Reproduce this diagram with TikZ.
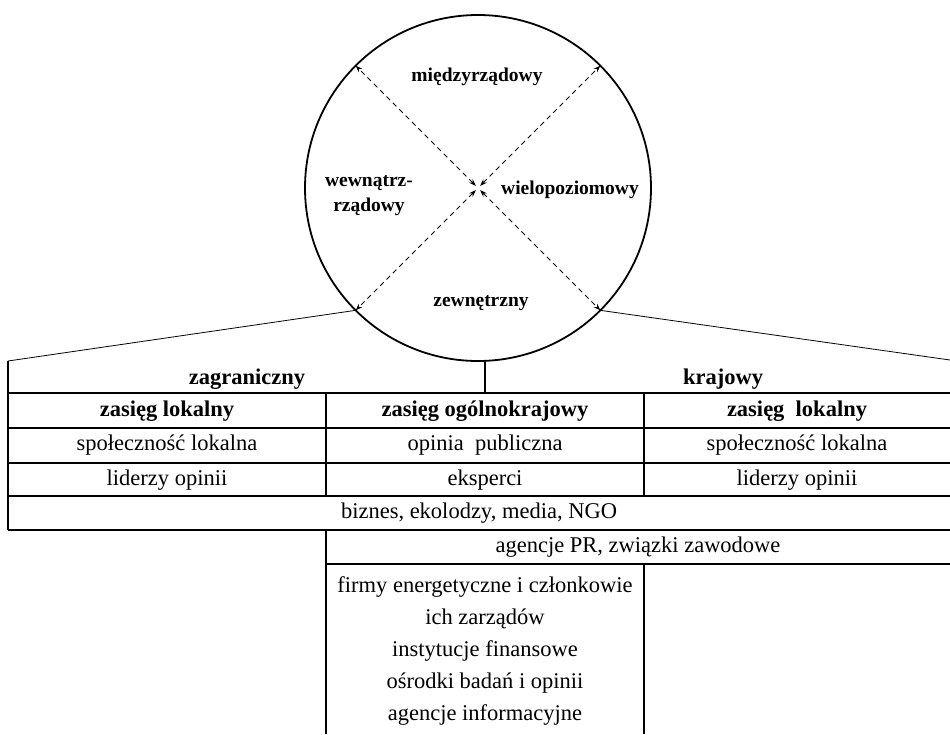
\documentclass[tikz,border=0pt]{standalone}
\usepackage{fontspec}
\setmainfont{Liberation Serif}
\usetikzlibrary{arrows.meta}
\begin{document}
\begin{tikzpicture}[x=1pt,y=-1pt,
  lbl/.style={font=\fontsize{19.5}{25}\selectfont\bfseries, align=center, inner sep=0},
  hd/.style={font=\fontsize{22.5}{27}\selectfont\bfseries, inner sep=0},
  cell/.style={font=\fontsize{22.5}{32}\selectfont, align=center, inner sep=0},
  grid/.style={line width=1.3pt},
  slant/.style={line width=0.8pt},
  dsh/.style={dash pattern=on 5pt off 4pt, line width=0.8pt, shorten <=3pt,
    {Stealth[length=7pt,width=5pt]}-{Stealth[length=7pt,width=5pt]}}]
\useasboundingbox (0,0) rectangle (950,734);
% circle
\node[draw, circle, line width=1.8pt, minimum size=346pt, inner sep=0, outer sep=0] (c) at (478,188) {};
\coordinate (o) at (478,188);
\foreach \a in {45,135,225,315} {\draw[dsh] (o) -- (c.\a);}
\node[lbl] (n1) at (477,77) {międzyrządowy};
\node[lbl] (n2) at (369,196) {wewnątrz-\\rządowy};
\node[lbl] (n3) at (570,190) {wielopoziomowy};
\node[lbl] (n4) at (481,303) {zewnętrzny};
% funnel
\coordinate (tl) at (8,361);
\coordinate (tr) at (950,360);
\draw[slant] (c.225) -- (tl);
\draw[slant] (c.315) -- (tr);
% table lines
\coordinate (d) at (485,393);
\draw[grid] (tl) -- (8,530);
\draw[grid] (d) -- (485,361);
\foreach \y in {393,428,463,496,530} {\draw[grid] (8,\y) -- (950,\y);}
\draw[grid] (326,564) -- (950,564);
\draw[grid] (326,393) -- (326,496);
\draw[grid] (644,393) -- (644,496);
\draw[grid] (326,530) -- (326,734);
\draw[grid] (644,564) -- (644,734);
% texts
\node[hd] (h1) at (247,379) {zagraniczny};
\node[hd] (h2) at (723,379) {krajowy};
\node[hd] (s1) at (167,411) {zasięg lokalny};
\node[hd] (s2) at (485,411) {zasięg ogólnokrajowy};
\node[hd] (s3) at (797,411) {zasięg\ \ lokalny};
\node[cell] (a1) at (167,445) {społeczność lokalna};
\node[cell] (a2) at (485,445) {opinia\ \ publiczna};
\node[cell] (a3) at (797,445) {społeczność lokalna};
\node[cell] (b1) at (167,480) {liderzy opinii};
\node[cell] (b2) at (485,480) {eksperci};
\node[cell] (b3) at (797,480) {liderzy opinii};
\node[cell] (r5) at (479,513) {biznes, ekolodzy, media, NGO};
\node[cell] (r6) at (638,547) {agencje PR, związki zawodowe};
\node[cell] (r7) at (485,651) {firmy energetyczne i członkowie\\ich zarządów\\instytucje finansowe\\ośrodki badań i opinii\\agencje informacyjne};
\end{tikzpicture}
\end{document}
